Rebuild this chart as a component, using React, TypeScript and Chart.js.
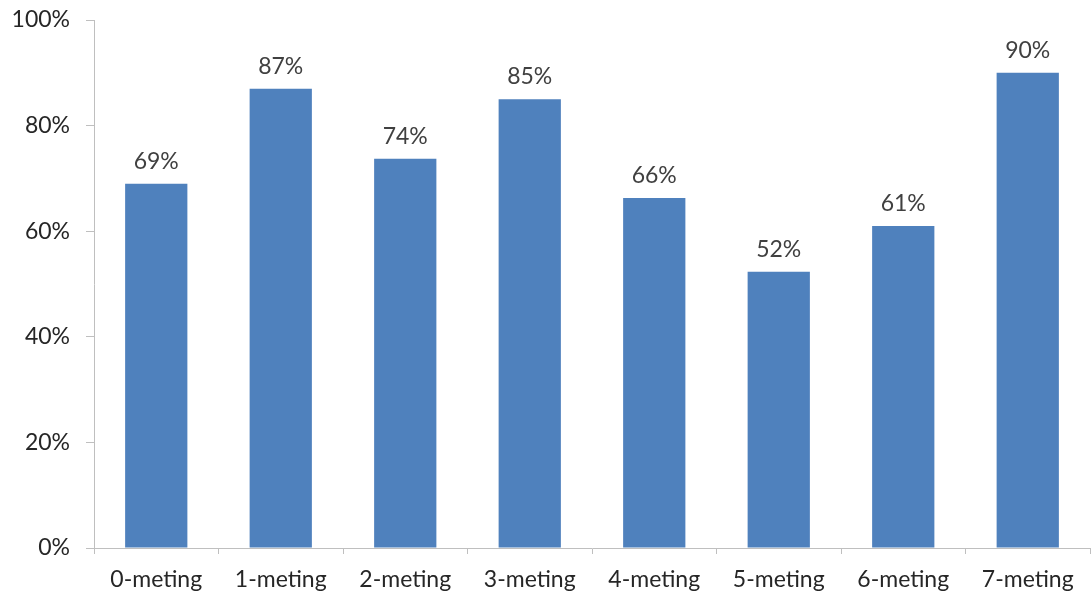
import React, { useEffect, useRef } from "react";
import { Chart, registerables } from "chart.js";

Chart.register(...registerables);

const categories = ["0-meting", "1-meting", "2-meting", "3-meting", "4-meting", "5-meting", "6-meting", "7-meting"];
const values = [0.69, 0.87, 0.737, 0.85, 0.663, 0.523, 0.61, 0.9];
const yTicks = [0, 0.2, 0.4, 0.6, 0.8, 1.0];

const FONT = "Lato, 'Open Sans', sans-serif";

const labelPlugin = {
  id: "barLabels",
  afterDatasetsDraw(chart: any) {
    const ctx = chart.ctx;
    const meta = chart.getDatasetMeta(0);
    ctx.save();
    ctx.font = `23px ${FONT}`;
    ctx.fillStyle = "#404040";
    ctx.textAlign = "center";
    ctx.textBaseline = "bottom";
    meta.data.forEach((bar: any, i: number) => {
      ctx.fillText(Math.round(values[i] * 100) + "%", bar.x, bar.y - 11);
    });
    ctx.restore();
  },
};

export default function App() {
  const ref = useRef<HTMLCanvasElement | null>(null);
  useEffect(() => {
    document.body.style.margin = "0";
    const chart = new Chart(ref.current!, {
      type: "bar",
      data: {
        labels: categories,
        datasets: [
          {
            data: values,
            backgroundColor: "#4F81BD",
            barPercentage: 0.5,
            categoryPercentage: 1,
          },
        ],
      },
      options: {
        animation: false,
        responsive: false,
        layout: { padding: { top: 20, right: 1, left: 0, bottom: 0 } },
        plugins: { legend: { display: false }, tooltip: { enabled: false } },
        scales: {
          x: {
            offset: true,
            grid: { display: true, drawOnChartArea: false, offset: true, tickLength: 6, color: "#bfbfbf" },
            border: { display: true, color: "#bfbfbf" },
            ticks: { font: { family: FONT, size: 23 }, color: "#262626", padding: 12, maxRotation: 0 },
            afterFit: (s: any) => { s.height = 48; s.paddingLeft = 0; s.paddingRight = 0; },
          },
          y: {
            min: 0,
            max: 1,
            afterBuildTicks: (s: any) => { s.ticks = yTicks.map((v) => ({ value: v })); },
            grid: { display: true, drawOnChartArea: false, tickLength: 8, color: "#bfbfbf" },
            border: { display: true, color: "#bfbfbf" },
            ticks: {
              font: { family: FONT, size: 23 },
              color: "#262626",
              padding: 16,
              callback: (v: any) => Math.round(Number(v) * 100) + "%",
            },
            afterFit: (s: any) => { s.width = 94; s.paddingTop = 0; s.paddingBottom = 0; },
          },
        },
      },
      plugins: [labelPlugin],
    });
    return () => chart.destroy();
  }, []);
  return (
    <div style={{ position: "absolute", left: 0, top: 0, width: 1091, height: 596, background: "#fff" }}>
      <canvas ref={ref} width={1091} height={596} />
    </div>
  );
}
